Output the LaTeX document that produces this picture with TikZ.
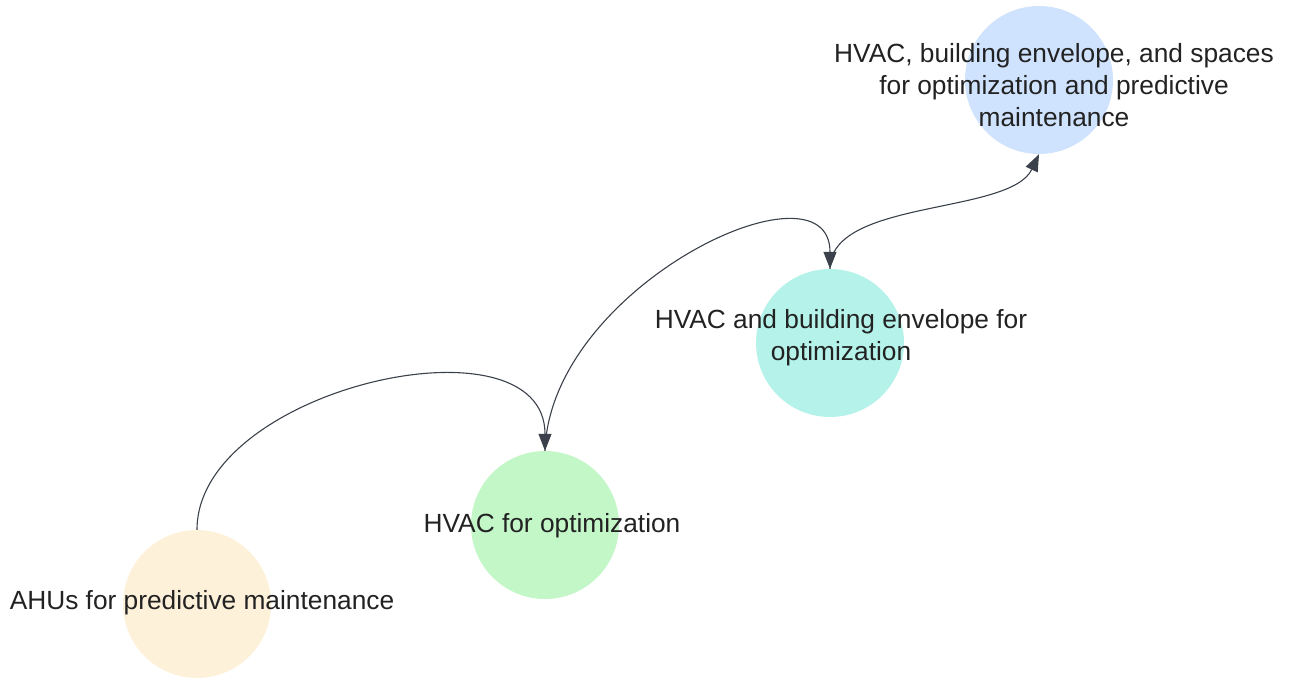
\documentclass[tikz,border=0pt]{standalone}
\usepackage{fontspec}
\setmainfont{Liberation Sans}
\usetikzlibrary{arrows.meta, positioning}
\definecolor{ahuyellow}{HTML}{FEF1DA}
\definecolor{hvacgreen}{HTML}{C3F7C8}
\definecolor{envteal}{HTML}{B5F3EA}
\definecolor{spaceblue}{HTML}{CFE3FE}
\definecolor{linegray}{HTML}{3A414A}
\definecolor{textgray}{HTML}{222222}

\begin{document}
\begin{tikzpicture}[x=1pt, y=-1pt,
  circ/.style={circle, draw=none, minimum size=148pt, inner sep=0pt},
  lbl/.style={inner sep=0pt, align=center, text=textgray, font=\fontsize{26.3}{32}\selectfont},
  conn/.style={-{Triangle[length=17pt, width=13pt]}, draw=linegray, line width=1.1pt}
]
  \useasboundingbox (0,0) rectangle (1292,677);

  % Circles
  \node[circ, fill=ahuyellow] (ahu) at (197, 604) {};
  \node[circ, fill=hvacgreen] (hvac) at (545, 525) {};
  \node[circ, fill=envteal] (env) at (830, 343) {};
  \node[circ, fill=spaceblue] (spaces) at (1039, 80) {};

  % Labels
  \node[lbl] (ahutext) at (202, 603) {AHUs for predictive maintenance};
  \node[lbl] (hvactext) at (552, 526) {HVAC for optimization};
  \node[lbl] (envtext) at (841, 338) {HVAC and building envelope for\\optimization};
  \node[lbl] (spacestext) at (1054, 85) {HVAC, building envelope, and spaces\\for optimization and predictive\\maintenance};

  % Connectors
  \draw[conn] (ahu.north) .. controls +(0,-142) and +(0,-140) .. (hvac.north);
  \draw[conn] (hvac.north) .. controls +(5,-165) and +(0,-115) .. (env.north);
  \draw[conn] (env.north) .. controls +(0,-70) and +(-29,61) .. (spaces.south);
\end{tikzpicture}
\end{document}
